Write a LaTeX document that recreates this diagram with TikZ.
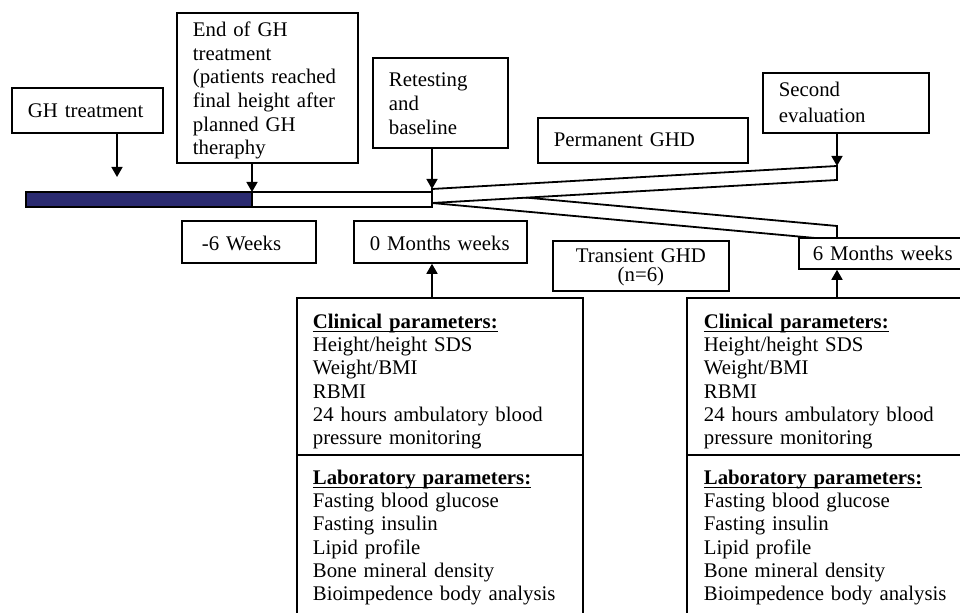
\documentclass[tikz,border=0pt]{standalone}
\usepackage{fontspec}
\setmainfont{Liberation Serif}
\usetikzlibrary{positioning,arrows.meta}
\definecolor{barnavy}{RGB}{42,42,112}
\newcommand{\headul}[1]{\setbox0\hbox{\textbf{#1}}\rlap{\rule[-2pt]{\wd0}{0.75pt}}\box0}

\begin{document}
\begin{tikzpicture}[
    x=0.5pt, y=-0.5pt,
    line width=0.9pt,
    box/.style={rectangle, draw, fill=white, anchor=north west, align=left, inner xsep=8pt, inner ysep=0pt, font=\fontsize{10.4}{11.85}\selectfont},
    panel/.style={rectangle, draw, fill=white, anchor=north west, inner sep=0pt},
    paneltext/.style={anchor=north west, align=left, inner sep=0pt, text width=127pt, font=\fontsize{10.4}{11.65}\selectfont},
    arr/.style={-{Triangle[width=5.5pt,length=5pt]}, line width=0.8pt}
]

\clip (0,0) rectangle (960,613);

% Timeline bar and the two branches
\coordinate (barstart) at (26,192);
\coordinate (barsplit) at (252,192);
\coordinate (fork) at (432,189);
\coordinate (forklow) at (432,203);
\coordinate (permtip) at (837,166);
\coordinate (transtip) at (837,226);

\draw[fill=white] (fork) -- (transtip) -- (837,240) -- (forklow) -- cycle;
\draw[fill=white] (fork) -- (permtip) -- (837,180) -- (forklow) -- cycle;
\draw[fill=barnavy] (barstart) rectangle (252,207);
\draw[fill=white] (barsplit) rectangle (432,207);

% Events above the timeline
\node[box, text width=59.5pt, text height=14.75pt, text depth=7.75pt] (ghbox) at (11,87) {GH treatment};
\node[box, text width=74.5pt, text height=11.75pt, text depth=63.25pt] (endbox) at (176,12) {End of GH\\treatment\\(patients reached\\final height after\\planned GH\\theraphy};
\node[box, text width=51.5pt, text height=14.5pt, text depth=30.5pt] (retestbox) at (372,57) {Retesting\\and\\baseline};
\node[box, text width=89pt, text height=14.35pt, text depth=8.15pt] (permbox) at (537,117) {Permanent GHD};
\node[box, text width=67pt, text height=11.85pt, text depth=18.15pt, font=\fontsize{10.4}{13}\selectfont] (secondbox) at (762,72) {Second\\evaluation};

% Time points
\node[box, text width=51pt, text height=14.65pt, text depth=6.35pt] (weeksbox) at (181,220) {\hspace{2pt}-6 Weeks};
\node[box, text width=70.5pt, text height=14.65pt, text depth=6.35pt] (month0box) at (353,220) {0 Months weeks};
\node[box, align=center, text width=72pt, text height=10.85pt, text depth=14.15pt, font=\fontsize{10.4}{9.5}\selectfont] (transbox) at (552,240) {Transient GHD\\(n=6)};
\node[box, inner xsep=7pt, text width=74.5pt, text height=11.5pt, text depth=4pt] (month6box) at (798,237) {6 Months weeks};

% Parameter panels
\node[panel, minimum width=143pt, minimum height=78.5pt] (clinA) at (296,297) {};
\node[panel, minimum width=143pt, minimum height=90pt] (labA) at (296,454) {};
\node[panel, minimum width=146pt, minimum height=78.5pt] (clinB) at (686,297) {};
\node[panel, minimum width=146pt, minimum height=90pt] (labB) at (686,454) {};

\node[paneltext] (clinAtext) at ([shift={(16,16)}]clinA.north west) {\headul{Clinical parameters:}\\Height/height SDS\\Weight/BMI\\RBMI\\24 hours ambulatory blood\\pressure monitoring};
\node[paneltext] (labAtext) at ([shift={(16,15)}]labA.north west) {\headul{Laboratory parameters:}\\Fasting blood glucose\\Fasting insulin\\Lipid profile\\Bone mineral density\\Bioimpedence body analysis};
\node[paneltext] (clinBtext) at ([shift={(17,16)}]clinB.north west) {\headul{Clinical parameters:}\\Height/height SDS\\Weight/BMI\\RBMI\\24 hours ambulatory blood\\pressure monitoring};
\node[paneltext] (labBtext) at ([shift={(17,15)}]labB.north west) {\headul{Laboratory parameters:}\\Fasting blood glucose\\Fasting insulin\\Lipid profile\\Bone mineral density\\Bioimpedence body analysis};

% Arrows
\coordinate (ghtip) at (117,177);
\draw[arr] (ghbox.south -| ghtip) -- (ghtip);
\draw[arr] (endbox.south -| barsplit) -- (barsplit);
\draw[arr] (retestbox.south -| fork) -- (fork);
\draw[arr] (secondbox.south -| permtip) -- (permtip);
\draw[arr] (clinA.north -| fork) -- (month0box.south -| fork);
\draw[arr] (clinB.north -| permtip) -- (month6box.south -| permtip);

\end{tikzpicture}
\end{document}
